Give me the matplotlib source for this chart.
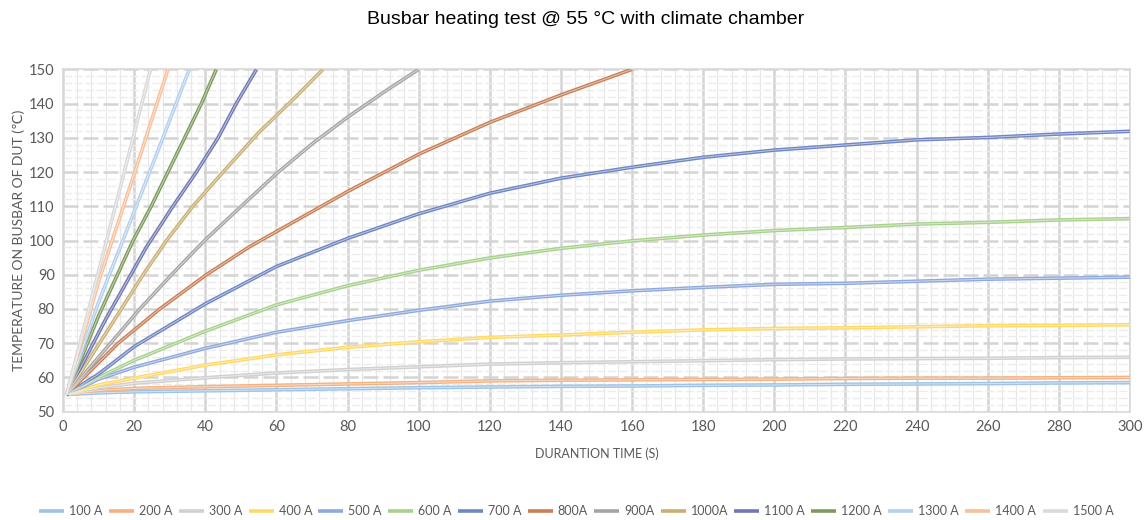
import matplotlib
matplotlib.use('agg')
import matplotlib.pyplot as plt
from matplotlib.colors import to_rgb
from matplotlib.ticker import MultipleLocator


OUTPUT_FILE = 'out.png'
FONT = ['Lato', 'DejaVu Sans']

# time axis shared by the slow series (s)
T_SLOW = [1, 10, 20, 40, 60, 80, 100, 120, 140, 160, 180, 200, 220, 240, 260, 280, 300]

A100 = [55, 55.5, 55.8, 56.1, 56.4, 56.7, 57.0, 57.2, 57.4, 57.5, 57.7, 57.8, 58.0, 58.1, 58.2, 58.4, 58.5]
A200 = [55, 56.2, 56.8, 57.3, 57.7, 58.1, 58.5, 59.0, 59.2, 59.3, 59.4, 59.5, 59.7, 59.8, 59.8, 59.9, 60.0]
A300 = [55, 57.0, 58.3, 59.9, 61.3, 62.3, 63.1, 63.9, 64.3, 64.6, 64.9, 65.2, 65.4, 65.5, 65.6, 65.8, 65.9]
A400 = [55, 57.8, 59.8, 63.6, 66.6, 68.8, 70.4, 71.7, 72.4, 73.2, 73.9, 74.3, 74.5, 74.8, 75.1, 75.2, 75.4]
A500 = [55, 59.5, 63.0, 68.5, 73.2, 76.6, 79.6, 82.3, 84.0, 85.3, 86.3, 87.2, 87.5, 88.1, 88.7, 89.0, 89.3]
A600 = [55, 60.0, 65.0, 73.5, 81.2, 86.8, 91.3, 94.9, 97.7, 99.9, 101.6, 102.9, 103.8, 104.8, 105.3, 106.0, 106.4]
A700 = [55, 61.0, 69.0, 81.5, 92.4, 100.6, 107.8, 113.8, 118.2, 121.4, 124.3, 126.4, 127.9, 129.4, 130.1, 131.1, 131.9]

# fast series, each until it leaves the 150 degC window
T800 = [1, 15.5, 27.2, 40.3, 52.5, 60, 80, 100, 120, 140, 160]
A800 = [55, 70, 80, 90, 98.2, 102.6, 114.3, 125.2, 134.5, 142.5, 150]
T900 = [1, 21.6, 30.5, 39.8, 52.5, 60, 70, 80, 90, 100]
A900 = [55, 80, 90, 100, 112.3, 119.5, 128.2, 136, 143.2, 150]
T1000 = [1, 16.4, 22.5, 29.1, 36.5, 45, 55, 65, 73.1]
A1000 = [55, 80, 90, 100, 110, 120, 131.5, 141.5, 150]
T1100 = [1, 12, 23.4, 30.9, 37.5, 43.6, 48.7, 54.4]
A1100 = [55, 77, 98, 110, 120, 130, 140, 150]
T1200 = [1, 10, 19.7, 24.8, 29.5, 34.2, 38.9, 43.1]
A1200 = [55, 78, 100, 110, 120, 130, 140, 150]
T1300 = [1, 10, 20.6, 28.1, 35.5]
A1300 = [55, 82, 110, 130, 150]
T1400 = [1, 10, 20.2, 29.5]
A1400 = [55, 88, 120, 150]
T1500 = [1, 10, 19.7, 24.6]
A1500 = [55, 91, 130, 150]

LABELS = ['100 A', '200 A', '300 A', '400 A', '500 A', '600 A', '700 A', '800A',
          '900A', '1000A', '1100 A', '1200 A', '1300 A', '1400 A', '1500 A']
COLORS = ['#9dc3e6', '#f4b183', '#d0d0d0', '#ffd966', '#8fa9dc', '#a9d18e', '#6f85c4',
          '#c97f55', '#a5a5a5', '#c8b072', '#7078b4', '#7e9b5f', '#b4d0ee', '#f8c09a', '#dadada']

SERIES = [(T_SLOW, A100), (T_SLOW, A200), (T_SLOW, A300), (T_SLOW, A400), (T_SLOW, A500),
          (T_SLOW, A600), (T_SLOW, A700), (T800, A800), (T900, A900), (T1000, A1000),
          (T1100, A1100), (T1200, A1200), (T1300, A1300), (T1400, A1400), (T1500, A1500)]


def lighter(c, f=0.55):
    r, g, b = to_rgb(c)
    return (r + (1 - r) * f, g + (1 - g) * f, b + (1 - b) * f)


fig = plt.figure(figsize=(11.48, 5.2), dpi=100)
ax = fig.add_axes([0.0549, 0.2083, 0.9294, 0.6584])

ax.set_xlim(0, 300)
ax.set_ylim(50, 150)
ax.xaxis.set_major_locator(MultipleLocator(20))
ax.xaxis.set_minor_locator(MultipleLocator(4))
ax.yaxis.set_major_locator(MultipleLocator(10))
ax.yaxis.set_minor_locator(MultipleLocator(2))

# grid like the excel chart
ax.grid(axis='x', which='major', color='#d4d4d4', lw=1.8, zorder=0)
ax.grid(axis='x', which='minor', color='#e8e8e8', lw=0.9, zorder=0)
ax.grid(axis='y', which='major', color='#d4d4d4', lw=1.8, ls=(0, (6, 2)), zorder=0)
ax.grid(axis='y', which='minor', color='#ececec', lw=1.0, ls=(0, (6, 2)), zorder=0)
ax.set_axisbelow(True)

for s in ax.spines.values():
    s.set_color('#d9d9d9')
    s.set_linewidth(1.2)

ax.tick_params(which='both', length=0, labelsize=10.5, labelcolor='#595959', pad=6)
for lab in ax.get_xticklabels() + ax.get_yticklabels():
    lab.set_family(FONT)

handles = []
for (t, v), lab, c in zip(SERIES, LABELS, COLORS):
    h, = ax.plot(t, v, color=c, lw=2.6, label=lab, solid_capstyle='butt', zorder=3)
    ax.plot(t, v, color=lighter(c), lw=0.7, zorder=4)
    handles.append(h)

ax.set_xlabel('DURANTION TIME (S)', fontsize=9, color='#595959', labelpad=10, family=FONT)
ax.set_ylabel('TEMPERATURE ON BUSBAR OF DUT (℃)', fontsize=10, color='#595959', labelpad=3,
              family=FONT)

fig.text(0.51, 0.962, 'Busbar heating test @ 55 °C with climate chamber', ha='center', va='center',
         fontsize=14, family=['Liberation Sans', 'DejaVu Sans'])

leg = fig.legend(handles=handles, loc='center', bbox_to_anchor=(0.502, 0.017), ncol=15,
                 frameon=False, handlelength=2.0, handletextpad=0.4, columnspacing=0.5,
                 prop={'family': FONT, 'size': 9})
for t in leg.get_texts():
    t.set_color('#595959')

fig.savefig(OUTPUT_FILE, dpi=100)
